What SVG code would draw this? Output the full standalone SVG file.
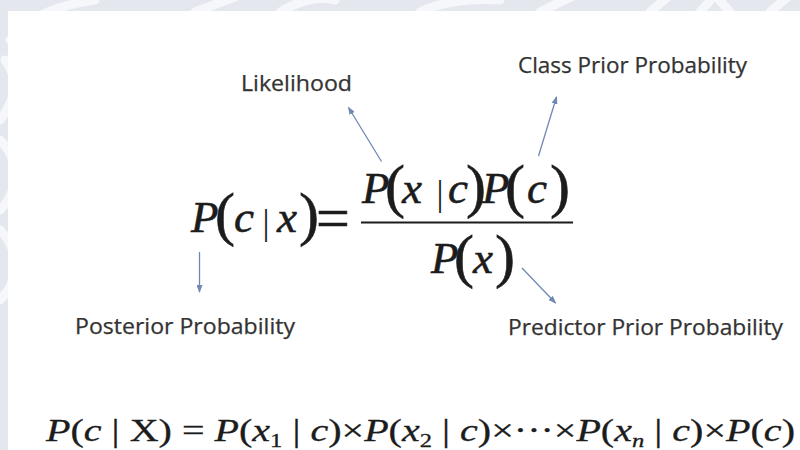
<svg xmlns="http://www.w3.org/2000/svg" width="800" height="450" viewBox="0 0 800 450">
  <style>
    .lbl { font-family: "Open Sans", "Noto Sans", "Liberation Sans", sans-serif; font-size: 21px; fill: #333333; stroke: #333333; stroke-width: 0.25; }
    .mi { font-family: "Liberation Serif", "Times New Roman", serif; font-style: italic; font-size: 45px; fill: #1c1c1c; stroke: #1c1c1c; stroke-width: 0.6; }
    .pr { font-family: "Liberation Serif", "Times New Roman", serif; font-size: 60px; fill: #1c1c1c; stroke: #1c1c1c; stroke-width: 0.6; }
    .bar { font-family: "Liberation Serif", "Times New Roman", serif; font-size: 35px; fill: #1c1c1c; }
    .eq2 { font-family: "Liberation Serif", "Times New Roman", serif; font-size: 31px; fill: #1c1c1c; stroke: #1c1c1c; stroke-width: 0.3; }
    .it { font-style: italic; }
    .wm { fill: none; stroke: #f6f7fa; stroke-width: 9; stroke-linecap: round; }
    .conn line { stroke: #7089b4; stroke-width: 1.3; fill: none; marker-end: url(#ah); }
  </style>
  <defs>
    <marker id="ah" markerUnits="userSpaceOnUse" markerWidth="8" markerHeight="6" refX="7" refY="3" orient="auto">
      <path d="M0,0 L8,3 L0,6 z" fill="#7089b4"/>
    </marker>
  </defs>

  <!-- background with faint watermark -->
  <rect x="0" y="0" width="800" height="450" fill="#e4e7ee"/>
  <g id="watermark">
    <path class="wm" d="M10,40 C30,15 60,5 95,0"/>
    <path class="wm" d="M0,120 C15,100 20,80 5,60"/>
    <path class="wm" d="M0,210 C20,190 20,160 0,140"/>
    <path class="wm" d="M0,300 C20,280 20,250 0,230"/>
    <path class="wm" d="M195,12 L240,-5"/>
    <path class="wm" d="M280,12 C300,0 320,-4 335,0"/>
    <path class="wm" d="M420,12 C440,2 470,-2 500,0"/>
    <path class="wm" d="M540,12 L575,-5"/>
    <path class="wm" d="M650,12 L670,-5 M700,12 L715,-5 L730,12 M770,12 L790,-5"/>
  </g>
  <rect x="8" y="11" width="792" height="439" fill="#ffffff"/>

  <!-- connectors -->
  <g id="connectors" class="conn">
    <line x1="381.5" y1="161.5" x2="348.5" y2="107.5"/>
    <line x1="538.5" y1="156" x2="556.5" y2="97"/>
    <line x1="199.5" y1="252" x2="199.5" y2="292"/>
    <line x1="522" y1="268" x2="555.5" y2="303"/>
  </g>

  <!-- labels -->
  <g id="likelihood"><text class="lbl" x="241" y="91" textLength="111" lengthAdjust="spacingAndGlyphs">Likelihood</text></g>
  <g id="class-prior"><text class="lbl" x="518" y="73" textLength="229" lengthAdjust="spacingAndGlyphs">Class Prior Probability</text></g>
  <g id="posterior"><text class="lbl" x="75" y="334" textLength="220" lengthAdjust="spacingAndGlyphs">Posterior Probability</text></g>
  <g id="predictor-prior"><text class="lbl" x="508" y="335" textLength="275" lengthAdjust="spacingAndGlyphs">Predictor Prior Probability</text></g>

  <!-- main Bayes formula -->
  <g id="posterior-term">
    <text class="mi" x="191" y="232">P</text>
    <text class="pr" x="215" y="234">(</text>
    <text class="mi" x="234" y="232">c</text>
    <text class="bar" x="262.5" y="234">|</text>
    <text class="mi" x="277" y="232">x</text>
    <text class="pr" x="299" y="234">)</text>
    <text class="pr" x="316" y="237.5">=</text>
  </g>
  <g id="numerator">
    <text class="mi" x="362" y="203">P</text>
    <text class="pr" x="385" y="206">(</text>
    <text class="mi" x="402" y="203">x</text>
    <text class="bar" x="436.5" y="205">|</text>
    <text class="mi" x="448" y="203">c</text>
    <text class="pr" x="466" y="206">)</text>
    <text class="mi" x="482" y="203">P</text>
    <text class="pr" x="505" y="206">(</text>
    <text class="mi" x="527" y="203">c</text>
    <text class="pr" x="550" y="206">)</text>
  </g>
  <line id="fraction-bar" x1="361" y1="222.5" x2="573" y2="222.5" stroke="#1c1c1c" stroke-width="1.8"/>
  <g id="denominator">
    <text class="mi" x="431" y="273">P</text>
    <text class="pr" x="454" y="276">(</text>
    <text class="mi" x="473" y="273">x</text>
    <text class="pr" x="495" y="276">)</text>
  </g>

  <!-- naive Bayes expansion -->
  <g id="naive-bayes">
    <text class="eq2" x="46" y="441" textLength="749" lengthAdjust="spacingAndGlyphs"><tspan class="it">P</tspan>(<tspan class="it">c</tspan> | X) = <tspan class="it">P</tspan>(<tspan class="it">x</tspan><tspan font-size="19" dy="6">1</tspan><tspan dy="-6"> | </tspan><tspan class="it">c</tspan>)×<tspan class="it">P</tspan>(<tspan class="it">x</tspan><tspan font-size="19" dy="6">2</tspan><tspan dy="-6"> | </tspan><tspan class="it">c</tspan>)×···×<tspan class="it">P</tspan>(<tspan class="it">x</tspan><tspan class="it" font-size="19" dy="6">n</tspan><tspan dy="-6"> | </tspan><tspan class="it">c</tspan>)×<tspan class="it">P</tspan>(<tspan class="it">c</tspan>)</text>
  </g>
</svg>
